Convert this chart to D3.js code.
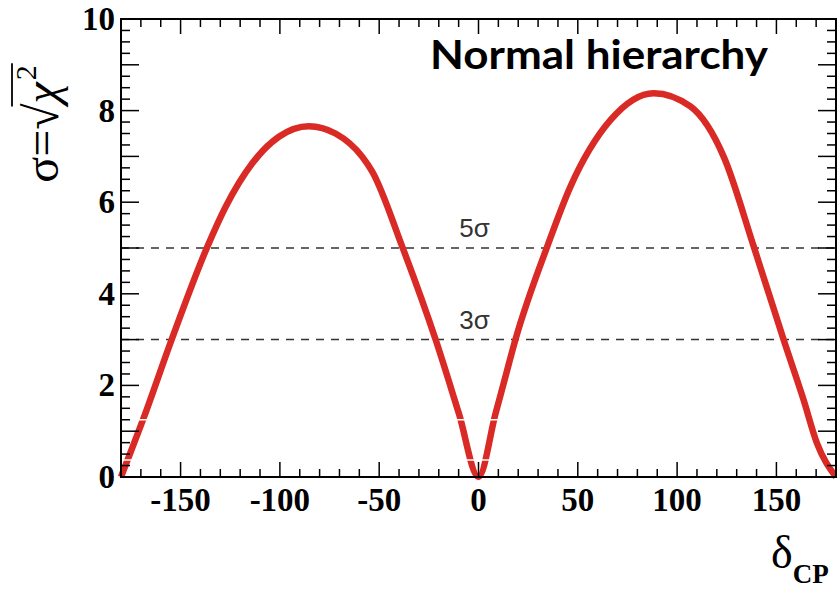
<!DOCTYPE html>
<html>
<head>
<meta charset="utf-8">
<script src="https://cdn.jsdelivr.net/npm/d3@7"></script>
<style>
  body { margin: 0; background: #fff; }
  svg { display: block; }
</style>
</head>
<body>
<svg width="837" height="594"></svg>
<script>
// delta_CP values (degrees) and significance sigma = sqrt(chi2)
let deltaCP = [-180, -168.5, -154.5, -136.5, -127.3, -113.9, -100.5, -85.4, -72, -58.5, -53.5,
  -38.4, -21.6, -9.9, 0, 8.6, 12.7, 18.6, 34.6, 46.3, 66.4, 88.2, 106.7, 123.5, 138.6, 153.6,
  163.7, 170.4, 180];
let sigma = [0, 1.3, 3.0, 5.03, 5.9, 6.85, 7.43, 7.66, 7.5, 6.99, 6.67,
  5.03, 3.0, 1.39, 0, 1.39, 2.05, 3.0, 5.03, 6.34, 7.79, 8.38, 8.09, 6.99, 5.03, 3.0,
  1.68, 0.74, 0];

let xTicks = [-150, -100, -50, 0, 50, 100, 150];
let yTicks = [0, 2, 4, 6, 8, 10];
let levels = [3, 5];
let levelLabels = ['3σ', '5σ'];

let vWidth = 837;
let vHeight = 594;
let plot = { left: 121, right: 836, top: 19, bottom: 477 };
let serif = '"Liberation Serif", "Times New Roman", serif';

let svg = d3.select('svg')
  .attr('width', vWidth)
  .attr('height', vHeight);

let x = d3.scaleLinear().domain([-180, 180]).range([plot.left, plot.right]);
let y = d3.scaleLinear().domain([0, 10]).range([plot.bottom, plot.top]);

// dashed significance levels
svg.selectAll('line.level')
  .data(levels)
  .enter()
  .append('line')
  .attr('class', 'level')
  .attr('x1', plot.left)
  .attr('x2', plot.right)
  .attr('y1', (d) => y(d))
  .attr('y2', (d) => y(d))
  .style('stroke', '#333')
  .style('stroke-width', 1.5)
  .style('stroke-dasharray', '8,7');

svg.selectAll('text.level')
  .data(levels)
  .enter()
  .append('text')
  .attr('class', 'level')
  .attr('x', x(-2))
  .attr('y', (d) => y(d) - 11)
  .attr('text-anchor', 'middle')
  .style('font-family', '"Liberation Sans", Arial, sans-serif')
  .style('font-size', '26px')
  .style('fill', '#333')
  .text((d, i) => levelLabels[i]);

// the curve
let line = d3.line()
  .x((d) => x(d[0]))
  .y((d) => y(d[1]))
  .curve(d3.curveMonotoneX);

svg.append('path')
  .datum(deltaCP.map((d, i) => [d, sigma[i]]))
  .attr('d', line)
  .style('fill', 'none')
  .style('stroke', '#d92a26')
  .style('stroke-width', 6.5)
  .style('stroke-linejoin', 'round');

// thin white scan gaps seen in the source picture
svg.selectAll('line.gap')
  .data([1.25, 0.37])
  .enter()
  .append('line')
  .attr('x1', x(-184))
  .attr('x2', x(14))
  .attr('y1', (d) => y(d))
  .attr('y2', (d) => y(d))
  .style('stroke', '#fff')
  .style('stroke-width', 1.5);

// ticks, ROOT style on all four sides
let xMinor = d3.range(-170, 180, 10);
let yMinor = d3.range(0.25, 10, 0.25);

let gTicks = svg.append('g').style('stroke', '#000').style('stroke-width', 1.5);

xMinor.forEach((v) => {
  let len = v % 50 === 0 ? 15 : 8;
  gTicks.append('line').attr('x1', x(v)).attr('x2', x(v))
    .attr('y1', plot.bottom).attr('y2', plot.bottom - len);
  gTicks.append('line').attr('x1', x(v)).attr('x2', x(v))
    .attr('y1', plot.top).attr('y2', plot.top + len);
});

yMinor.forEach((v) => {
  let len = Math.abs(v - Math.round(v)) < 1e-6 ? 18 : 9;
  gTicks.append('line').attr('y1', y(v)).attr('y2', y(v))
    .attr('x1', plot.left).attr('x2', plot.left + len);
  gTicks.append('line').attr('y1', y(v)).attr('y2', y(v))
    .attr('x1', plot.right).attr('x2', plot.right - len);
});

// frame
svg.append('rect')
  .attr('x', plot.left)
  .attr('y', plot.top)
  .attr('width', plot.right - plot.left)
  .attr('height', plot.bottom - plot.top)
  .style('fill', 'none')
  .style('stroke', '#000')
  .style('stroke-width', 2);

// tick labels
svg.selectAll('text.xt')
  .data(xTicks)
  .enter()
  .append('text')
  .attr('class', 'xt')
  .attr('x', (d) => x(d))
  .attr('y', 511)
  .attr('text-anchor', 'middle')
  .style('font-family', serif)
  .style('font-weight', 'bold')
  .style('font-size', '33px')
  .text((d) => d);

svg.selectAll('text.yt')
  .data(yTicks)
  .enter()
  .append('text')
  .attr('class', 'yt')
  .attr('x', 115)
  .attr('y', (d) => y(d) + 11)
  .attr('text-anchor', 'end')
  .style('font-family', serif)
  .style('font-weight', 'bold')
  .style('font-size', '33px')
  .text((d) => d);

// y axis title: sigma = sqrt(chi^2)
let gy = svg.append('g')
  .attr('transform', 'translate(58,123) rotate(-90)');
let t1 = gy.append('text').style('font-family', serif).style('font-size', '48px').text('σ=√');
let w1 = t1.node().getComputedTextLength();
let t2 = gy.append('text').attr('x', w1).style('font-family', serif).style('font-size', '48px')
  .style('font-style', 'italic').text('χ');
let w2 = t2.node().getComputedTextLength();
let t3 = gy.append('text').attr('x', w1 + w2 + 2).attr('y', -22).style('font-family', serif)
  .style('font-size', '30px').text('2');
let w3 = t3.node().getComputedTextLength();
let total = w1 + w2 + w3 + 4;
gy.append('line')
  .attr('x1', w1 - 3).attr('x2', total)
  .attr('y1', -46).attr('y2', -46)
  .style('stroke', '#000').style('stroke-width', 1.8);
gy.selectAll('*').attr('transform', `translate(${-total / 2},0)`);

// x axis title
let xt = svg.append('text')
  .attr('x', 771)
  .attr('y', 568)
  .style('font-family', serif);
xt.append('tspan').style('font-size', '46px').text('δ');
xt.append('tspan').attr('dy', 15).style('font-size', '27px').style('font-weight', 'bold').text('CP');

// annotation
svg.append('text')
  .attr('x', 430)
  .attr('y', 69)
  .attr('textLength', 338)
  .attr('lengthAdjust', 'spacingAndGlyphs')
  .style('font-family', 'Lato, "Open Sans", sans-serif')
  .style('font-weight', 'bold')
  .style('font-size', '40px')
  .text('Normal hierarchy');
</script>
</body>
</html>
